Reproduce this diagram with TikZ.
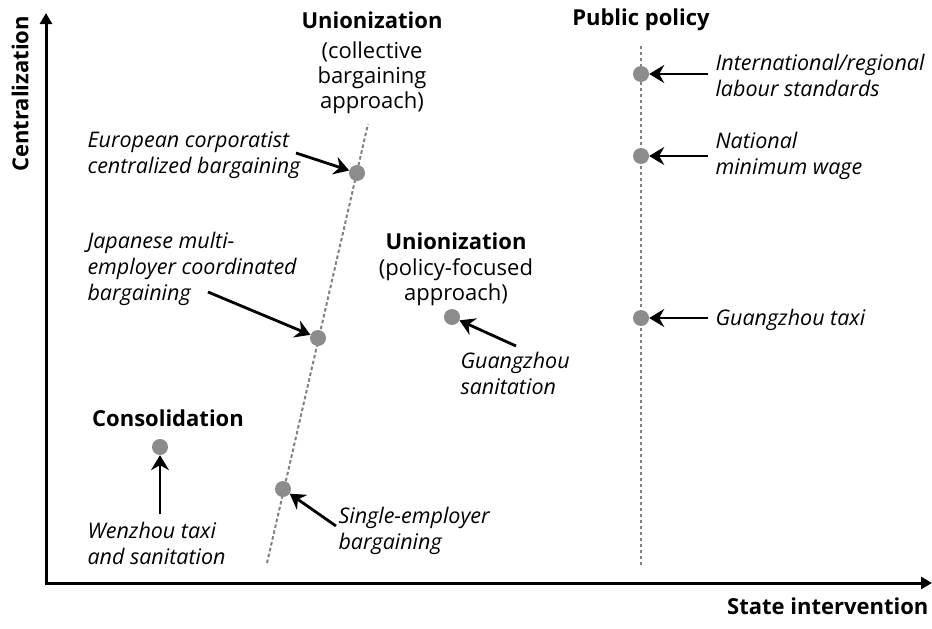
\documentclass[tikz,border=0pt]{standalone}
\usepackage{fontspec}
\setmainfont{Open Sans}
\usetikzlibrary{arrows.meta}
\begin{document}
\begin{tikzpicture}[x=1pt,y=-1pt,
  axis/.style={line width=3pt,-{Triangle[length=11pt,width=12pt]}},
  pointer/.style={line width=2.8pt,-{Stealth[length=15pt,width=18pt,inset=5pt]}},
  guide/.style={black!50,line width=2pt,dash pattern=on 3.5pt off 2.5pt},
  dot/.style={circle,fill=black!45,inner sep=0pt,minimum size=16pt},
  head/.style={font=\fontsize{22}{25}\selectfont\bfseries,align=center},
  sub/.style={font=\fontsize{22}{25}\selectfont,align=center},
  lab/.style={font=\fontsize{21.5}{26}\selectfont\itshape,align=left,anchor=west},
]
\useasboundingbox (0,0) rectangle (932,629);

% axes
\coordinate (o) at (46,583);
\coordinate (ytop) at (46,13);
\coordinate (xend) at (932,583);
\draw[axis] (o) -- (ytop);
\draw[axis] ([xshift=-1.5pt]o) -- (xend);
\node[head,rotate=90] (ylab) at (20,94) {Centralization};
\node[head,anchor=east] (xlab) at (932,606) {State intervention};

% guide lines
\coordinate (ga) at (267,563);
\coordinate (gb) at (368,124);
\draw[guide] (ga) -- (gb);
\coordinate (pa) at (641,565);
\coordinate (pb) at (641,44);
\draw[guide] (pa) -- (pb);

% headings
\node[head] (hpub) at (641,20) {Public policy};
\node[head] (hcb) at (372,20) {Unionization};
\node[sub,anchor=north] (hcbs) at (372,38) {(collective\\bargaining\\approach)};
\node[head] (hpf) at (456,241) {Unionization};
\node[sub,anchor=north] (hpfs) at (456,255) {(policy-focused\\approach)};
\node[head] (hcon) at (168,418) {Consolidation};

% points
\node[dot] (d1) at (641,74) {};
\node[dot] (d2) at (641,156) {};
\node[dot] (d3) at (641,318) {};
\node[dot] (e1) at (357,173) {};
\node[dot] (e2) at (318,338) {};
\node[dot] (e3) at (283,489) {};
\node[dot] (f1) at (452,317) {};
\node[dot] (c1) at (160,447) {};

% labels
\node[lab] (l1) at (712,75) {International/regional\\labour standards};
\node[lab] (l2) at (712,156) {National\\minimum wage};
\node[lab] (l3) at (712,320) {Guangzhou taxi};
\node[lab] (l4) at (84,155) {European corporatist\\centralized bargaining};
\node[lab] (l5) at (84,269) {Japanese multi-\\employer coordinated\\bargaining};
\node[lab] (l6) at (457,373) {Guangzhou\\sanitation};
\node[lab] (l7) at (84,543) {Wenzhou taxi\\and sanitation};
\node[lab] (l8) at (335,531) {Single-employer\\bargaining};

% pointers
\coordinate (s1) at (708,74);
\coordinate (s2) at (708,156);
\coordinate (s3) at (708,318);
\coordinate (s4) at (296,153);
\coordinate (s5) at (208,292);
\coordinate (s6) at (516,346);
\coordinate (s7) at (160,514);
\coordinate (s8) at (336,526);
\draw[pointer] (s1) -- (d1);
\draw[pointer] (s2) -- (d2);
\draw[pointer] (s3) -- (d3);
\draw[pointer] (s4) -- (e1);
\draw[pointer] (s5) -- (e2);
\draw[pointer] (s6) -- (f1);
\draw[pointer] (s7) -- (c1);
\draw[pointer] (s8) -- (e3);
\end{tikzpicture}
\end{document}
